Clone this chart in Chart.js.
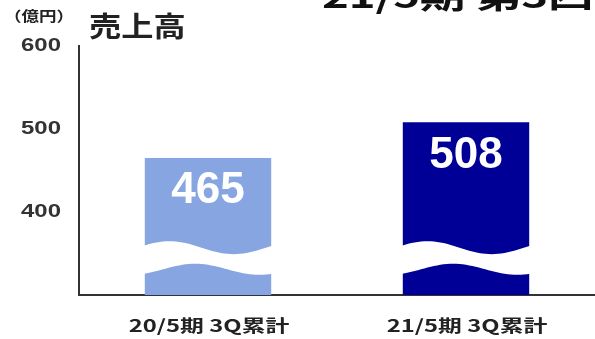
<!DOCTYPE html>
<html>
<head>
<meta charset="utf-8">
<script src="https://cdn.jsdelivr.net/npm/chart.js@4"></script>
<style>
  html, body { margin: 0; padding: 0; background: #fff; }
  #salesChart { display: block; }
</style>
</head>
<body>
<canvas id="salesChart" width="595" height="339"></canvas>
<script>
// Chart data
const periods = ["20/5期 3Q累計", "21/5期 3Q累計"];
const sales = [465, 508];
const barColors = ["#87a6e1", "#000096"];
const yTicks = [300, 400, 500, 600];

const unitLabel = "（億円）";
const chartTitle = "売上高";
const pageHeading = "21/5期 第3四半期 決算";

const jpFont = "'Noto Sans CJK JP', 'Noto Sans', sans-serif";
const numFont = "'Liberation Sans', Arial, sans-serif";

// Axis break: white wavy band across each bar, between these values
const breakLow = 331;
const breakHigh = 357;

// text drawn with a horizontal stretch (the deck's fonts run wide)
function wideText(ctx, text, x, y, sx, align) {
  const w = ctx.measureText(text).width * sx;
  let left = x;
  if (align === "center") left = x - w / 2;
  else if (align === "right") left = x - w;
  ctx.save();
  ctx.translate(left, y);
  ctx.scale(sx, 1);
  ctx.textAlign = "left";
  ctx.fillText(text, 0, 0);
  ctx.restore();
}

const waveBreak = {
  id: "waveBreak",
  afterDatasetsDraw(chart) {
    const ctx = chart.ctx;
    const y = chart.scales.y;
    const yTop = y.getPixelForValue(breakHigh);
    const yBot = y.getPixelForValue(breakLow);
    chart.getDatasetMeta(0).data.forEach((bar) => {
      const left = bar.x - bar.width / 2 - 1;
      const w = bar.width + 2;
      ctx.save();
      ctx.fillStyle = "#fff";
      ctx.beginPath();
      for (let i = 0; i <= 40; i++) {
        const t = i / 40;
        const py = yTop - 6.5 * Math.sin(2 * Math.PI * (t + 0.05));
        if (i === 0) ctx.moveTo(left + t * w, py);
        else ctx.lineTo(left + t * w, py);
      }
      for (let i = 40; i >= 0; i--) {
        const t = i / 40;
        const py = yBot - 5.5 * Math.sin(2 * Math.PI * (t - 0.15));
        ctx.lineTo(left + t * w, py);
      }
      ctx.closePath();
      ctx.fill();
      ctx.restore();
    });
  },
};

const barValues = {
  id: "barValues",
  afterDatasetsDraw(chart) {
    const ctx = chart.ctx;
    const ds = chart.data.datasets[0];
    ctx.save();
    ctx.fillStyle = "#fff";
    ctx.font = "bold 44px " + numFont;
    ctx.textAlign = "center";
    ctx.textBaseline = "middle";
    chart.getDatasetMeta(0).data.forEach((bar, i) => {
      ctx.fillText(String(ds.data[i]), bar.x, bar.y + 33);
    });
    ctx.restore();
  },
};

// tick labels, placed from the chart's own scales
const axisLabels = {
  id: "axisLabels",
  afterDraw(chart) {
    const ctx = chart.ctx;
    const xs = chart.scales.x;
    const ys = chart.scales.y;
    ctx.save();
    ctx.textBaseline = "middle";
    ctx.fillStyle = "#333";
    ctx.font = "bold 18px " + numFont;
    ys.ticks.forEach((t, i) => {
      if (t.value === yTicks[0]) return;
      wideText(ctx, String(t.value), 61, ys.getPixelForTick(i), 1.33, "right");
    });
    ctx.fillStyle = "#222";
    ctx.font = "bold 17px " + jpFont;
    xs.ticks.forEach((t, i) => {
      wideText(ctx, periods[i], xs.getPixelForTick(i) + 1, 326, 1.4, "center");
    });
    ctx.restore();
  },
};

const headings = {
  id: "headings",
  afterDraw(chart) {
    const ctx = chart.ctx;
    ctx.save();
    ctx.fillStyle = "#222";
    ctx.textBaseline = "middle";
    ctx.font = "bold 14px " + jpFont;
    wideText(ctx, unitLabel, 39, 16, 1.25, "center");
    ctx.font = "bold 28px " + jpFont;
    wideText(ctx, chartTitle, 89, 26, 1.15, "left");
    ctx.textBaseline = "alphabetic";
    ctx.font = "bold 32px " + jpFont;
    ctx.fillStyle = "#111";
    wideText(ctx, pageHeading, 322, 8, 1.42, "left");
    ctx.restore();
  },
};

new Chart(document.getElementById("salesChart"), {
  type: "bar",
  data: {
    labels: periods,
    datasets: [
      {
        data: sales,
        backgroundColor: barColors,
        barPercentage: 0.49,
        categoryPercentage: 1,
      },
    ],
  },
  options: {
    responsive: false,
    devicePixelRatio: 1,
    animation: false,
    layout: { padding: { top: 46, left: 0, right: 0, bottom: 0 } },
    plugins: {
      legend: { display: false },
      tooltip: { enabled: false },
    },
    scales: {
      x: {
        grid: { display: false },
        border: { color: "#333", width: 2 },
        ticks: { display: false },
        afterFit(scale) {
          scale.height = 44;
        },
      },
      y: {
        min: yTicks[0],
        max: yTicks[yTicks.length - 1],
        afterBuildTicks(scale) {
          scale.ticks = yTicks.map((v) => ({ value: v }));
        },
        grid: { display: false },
        border: { color: "#333", width: 2 },
        ticks: { display: false },
        afterFit(scale) {
          scale.width = 79;
        },
      },
    },
  },
  plugins: [waveBreak, barValues, axisLabels, headings],
});
</script>
</body>
</html>
